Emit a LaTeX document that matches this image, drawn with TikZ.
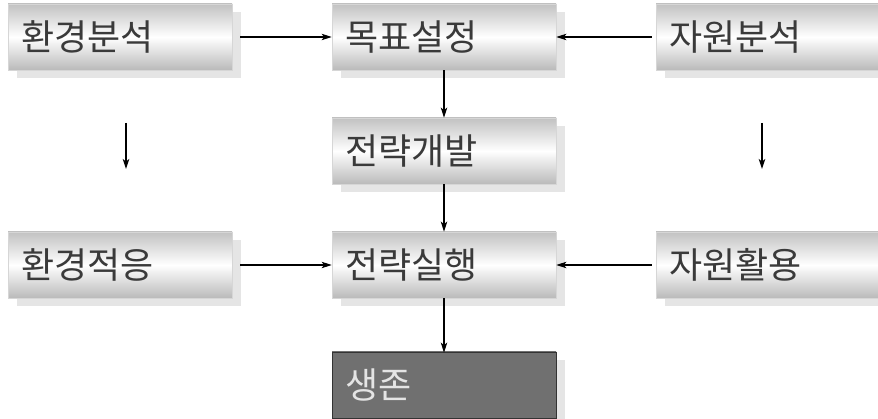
\documentclass[tikz,border=0pt]{standalone}
\usepackage{fontspec}
\usepackage{xcolor}
\usetikzlibrary{arrows.meta, positioning, shadows}
\newfontfamily\kofont{Noto Sans CJK KR}
\definecolor{boxtext}{RGB}{58,58,58}
\definecolor{boxedge}{RGB}{214,214,214}
\definecolor{darkfill}{RGB}{112,112,112}
\definecolor{darktext}{RGB}{228,228,228}

\begin{document}
\begin{tikzpicture}[x=1pt, y=-1pt,
    stagebox/.style={rectangle, draw=boxedge, line width=0.8pt,
        top color=black!24, bottom color=black!27, middle color=white,
        minimum width=224pt, minimum height=66pt, text width=197pt, inner xsep=13.5pt,
        align=left, text=boxtext, font=\kofont\fontsize{36}{36}\selectfont,
        drop shadow={shadow xshift=9pt, shadow yshift=-8pt, fill=black!10, opacity=1}},
    goalbox/.style={stagebox, draw=black!80, fill=darkfill, top color=darkfill,
        bottom color=darkfill, middle color=darkfill, text=darktext},
    flow/.style={line width=1.1pt, -{Stealth[length=10pt, width=6.5pt, inset=2.5pt]}}]
    \useasboundingbox (0,0) rectangle (878,419);

    % Top row
    \node[stagebox] (envscan) at (120,37) {환경분석};
    \node[stagebox] (goalset) at (444,37) {목표설정};
    \node[stagebox] (resscan) at (768,37) {자원분석};

    % Middle
    \node[stagebox] (stratdev) at (444,151) {전략개발};

    % Third row
    \node[stagebox] (envfit) at (120,265) {환경적응};
    \node[stagebox] (stratrun) at (444,265) {전략실행};
    \node[stagebox] (resuse) at (768,265) {자원활용};

    % Bottom
    \node[goalbox] (survive) at (444,385) {생존};

    % Free-standing arrows
    \coordinate (envtop) at (126,123);
    \coordinate (envbot) at (126,169);
    \coordinate (restop) at (762,123);
    \coordinate (resbot) at (762,169);

    % Connecting arrows
    \draw[flow] ([xshift=8pt]envscan.east) -- (goalset.west);
    \draw[flow] ([xshift=-4pt]resscan.west) -- (goalset.east);
    \draw[flow] (goalset.south) -- (stratdev.north);
    \draw[flow] (stratdev.south) -- (stratrun.north);
    \draw[flow] ([xshift=8pt]envfit.east) -- (stratrun.west);
    \draw[flow] ([xshift=-4pt]resuse.west) -- (stratrun.east);
    \draw[flow] (stratrun.south) -- ([yshift=-1pt]survive.north);
    \draw[flow] (envtop) -- (envbot);
    \draw[flow] (restop) -- (resbot);

\end{tikzpicture}
\end{document}
